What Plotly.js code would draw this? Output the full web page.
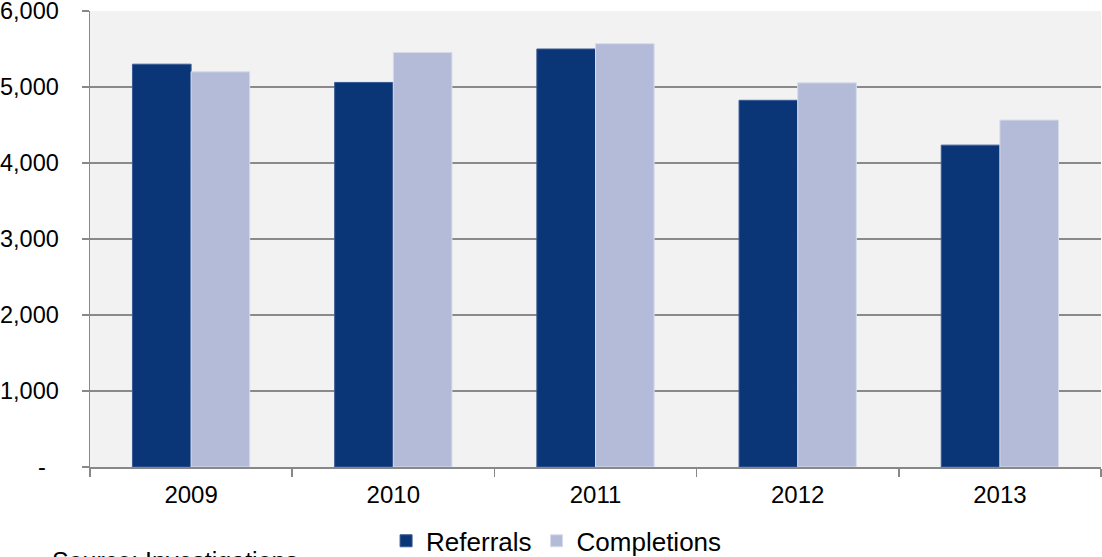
<!DOCTYPE html>
<html>
<head>
<meta charset="utf-8">
<script src="https://cdn.plot.ly/plotly-3.0.1.min.js"></script>
<style>html,body{margin:0;padding:0;background:#fff;}#chart{width:1102px;height:557px;}</style>
</head>
<body>
<div id="chart"></div>
<script>
const years = ["2009", "2010", "2011", "2012", "2013"];
const referrals = [5300, 5060, 5500, 4825, 4235];
const completions = [5200, 5455, 5570, 5055, 4565];
const yTickVals = [0, 1000, 2000, 3000, 4000, 5000, 6000];
const yTickText = ["-\u00a0\u00a0", "1,000", "2,000", "3,000", "4,000", "5,000", "6,000"];

const data = [
  {type: "bar", name: "Referrals", x: years, y: referrals,
   marker: {color: "#0a3678", line: {color: "#3a5a94", width: 1}}, hoverinfo: "y"},
  {type: "bar", name: "Completions", x: years, y: completions,
   marker: {color: "#b3bbd8", line: {color: "#d8dcea", width: 1}}, hoverinfo: "y"}
];

const layout = {
  width: 1102, height: 557,
  margin: {l: 90, r: 1, t: 11, b: 90, autoexpand: false},
  paper_bgcolor: "#ffffff",
  plot_bgcolor: "#f2f2f2",
  font: {family: "'Liberation Sans', Arial, sans-serif", size: 23, color: "#000"},
  barmode: "group",
  bargap: 0.42,
  bargroupgap: 0,
  showlegend: true,
  legend: {orientation: "h", x: 0.461, xanchor: "center", y: -0.162, yanchor: "middle",
           font: {size: 26}, itemwidth: 30, traceorder: "normal"},
  xaxis: {
    type: "category",
    showline: true, linecolor: "#888", linewidth: 1.5,
    ticks: "outside", tickson: "boundaries", ticklen: 8, tickcolor: "#888", tickwidth: 1.5,
    showgrid: false, zeroline: false,
    tickfont: {size: 24}, ticklabelstandoff: 6
  },
  yaxis: {
    range: [0, 6000],
    tickvals: yTickVals, ticktext: yTickText,
    showline: true, linecolor: "#888", linewidth: 1.5,
    ticks: "outside", ticklen: 7, tickcolor: "#888", tickwidth: 1.5,
    showgrid: true, gridcolor: "#8a8a8a", gridwidth: 2,
    zeroline: false, ticklabeloverflow: "allow",
    tickfont: {size: 23.5}, ticklabelstandoff: 18
  },
  annotations: [
    {xref: "paper", yref: "paper", x: -0.04, y: -0.172, xanchor: "left", yanchor: "top",
     text: "Source: Investigations", showarrow: false, font: {size: 25}}
  ]
};

Plotly.newPlot("chart", data, layout, {displayModeBar: false, staticPlot: true});
</script>
</body>
</html>
